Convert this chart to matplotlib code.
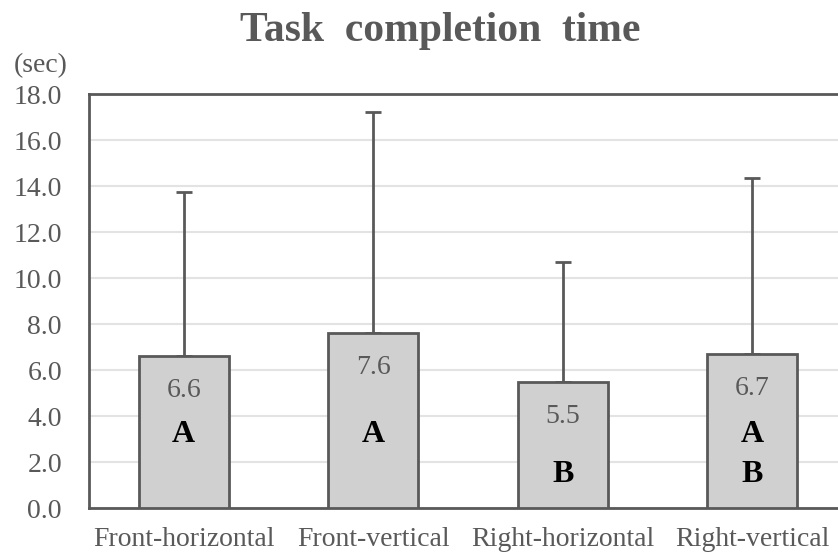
import numpy as np
from matplotlib import pyplot as plt

conditions = ['Front-horizontal', 'Front-vertical', 'Right-horizontal', 'Right-vertical']
mean_time = [6.6, 7.6, 5.5, 6.7]
sd_time = [7.14, 9.6, 5.2, 7.65]
value_labels = ['6.6', '7.6', '5.5', '6.7']
groups = [['A'], ['A'], ['B'], ['A', 'B']]
yticks = np.arange(0, 18.1, 2.0)

plt.rcParams['font.family'] = ['Liberation Serif', 'DejaVu Serif']
grey = '#595959'

fig = plt.figure(figsize=(8.38, 5.57), dpi=100)
ax = fig.add_axes([89/838, 1 - 508/557, (847 - 89)/838, (508 - 94)/557])

x = np.arange(len(conditions))
ax.bar(x, mean_time, width=0.475, color='#d0d0d0', edgecolor=grey, linewidth=2, zorder=3)
ax.errorbar(x, mean_time, yerr=[np.zeros(len(x)), sd_time], fmt='none',
            ecolor=grey, elinewidth=2, capsize=5.5, capthick=2, zorder=2)

# mean value labels just below the bar top
for xi, v, lab in zip(x, mean_time, value_labels):
    ax.annotate(lab, (xi, v), xytext=(0, -25), textcoords='offset points',
                ha='center', va='center', fontsize=20, color=grey, zorder=4)

# significance letters
letter_y = {'A': 3.2, 'B': 1.47}
for xi, g in zip(x, groups):
    for letter in g:
        ax.text(xi, letter_y[letter], letter, ha='center', va='center',
                fontsize=23, fontweight='bold', color='black', zorder=4)

ax.set_xlim(-0.5, 3.5)
ax.set_ylim(0, 18)
ax.set_yticks(yticks)
ax.set_yticklabels(['%.1f' % t for t in yticks])
ax.set_xticks(x)
ax.set_xticklabels(conditions)
ax.tick_params(axis='both', length=0, labelsize=20, labelcolor=grey)
ax.tick_params(axis='y', pad=19.5)
ax.tick_params(axis='x', pad=14)
ax.grid(axis='y', color='#e3e3e3', linewidth=1.5, zorder=0)
ax.set_axisbelow(True)
for side in ['left', 'top', 'bottom', 'right']:
    ax.spines[side].set_color(grey)
    ax.spines[side].set_linewidth(2)

fig.text(14/838, 1 - 66/557, '(sec)', fontsize=20, color=grey, va='center', ha='left')
fig.text(440/838, 1 - 31/557, 'Task  completion  time', fontsize=30, fontweight='bold',
         color=grey, ha='center', va='center')

fig.savefig('out.png', dpi=100)
